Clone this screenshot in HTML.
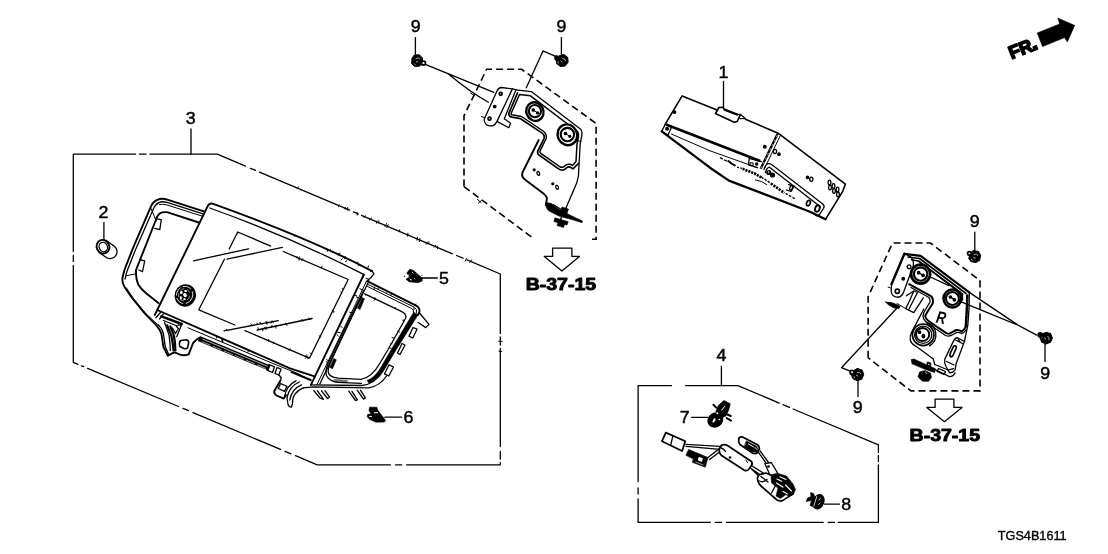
<!DOCTYPE html>
<html lang="en">
<head>
<meta charset="utf-8">
<title>TGS4B1611</title>
<style>
html,body{margin:0;padding:0;background:#fff;}
body{width:1108px;height:554px;overflow:hidden;}
svg{display:block;will-change:transform;}
svg text{font-family:"Liberation Sans",sans-serif;fill:#000;}
.l{fill:none;stroke:#000;stroke-width:1.3;stroke-linecap:round;stroke-linejoin:round;}
.t{fill:none;stroke:#000;stroke-width:1;stroke-linecap:round;stroke-linejoin:round;}
.h{fill:none;stroke:#000;stroke-width:1.9;stroke-linecap:round;stroke-linejoin:round;}
.b{fill:none;stroke:#000;stroke-width:2.4;stroke-linecap:round;stroke-linejoin:round;}
.w{fill:#fff;stroke:#000;stroke-width:1.3;stroke-linejoin:round;}
.k{fill:#000;stroke:#000;stroke-width:0.6;stroke-linejoin:round;}
.d{fill:none;stroke:#000;stroke-width:1.6;stroke-dasharray:7 4;}
.n{font-size:17.2px;text-anchor:middle;}
.ref{font-size:16px;font-weight:bold;text-anchor:middle;stroke:#000;stroke-width:0.9;stroke-linejoin:round;}
</style>
</head>
<body>
<svg width="1108" height="554" viewBox="0 0 1108 554">
<rect x="0" y="0" width="1108" height="554" fill="#fff"/>
<!-- assembly outline 3 -->
<g class="l" id="box3">
<path d="M73.3 251.5V154.2H135.5M139.5 154.2h6.5M150 154.2H217.3L245.5 166.1M250.5 168.3l5 2.1M259.5 172.1L349.600 210.200M353.500 211.900l5 2.100M361.500 215.300L452.5 253.8M456.5 255.5l6.5 2.7M467 259.9L500.3 274V333.5M500.3 337v8M500.3 348.5V446.5M500.3 451.5v7.5M500.3 462.5v2.3H406.5M401.7 464.8h-6.2M390.5 464.8H317.2L295.5 455.7M291 453.8l-6-2.5M280.5 449.4L193 412.6M188.5 410.7l-5.5-2.3M178.5 406.5L87.6 368.3M83.5 366.6l-2-.8M78 364.3l-4.7-2V265.5M73.3 261.5v-6"/>
<path d="M191 129V154.2"/>
</g>
<!-- assembly outline 4 -->
<g class="l" id="box4">
<path d="M638.1 481.5V385.7H671.4M685.7 385.7H737.9L779.3 403.1M783 404.7l6.4 2.7M793.1 409L878.4 444.9V452.5M878.4 455.5v6M878.4 465V522.4H838.3M834.5 522.4h-6.3M823.2 522.4H726.6M721.6 522.4h-6.3M710.3 522.4H638.1V499M638.1 494v-6.2"/>
<path d="M721.4 366.4V385.7"/>
</g>
<!-- callout numbers -->
<g class="n" stroke="#000" stroke-width="0.450">
<text x="190.6" y="124" textLength="9.900" lengthAdjust="spacingAndGlyphs">3</text>
<text x="103.4" y="217.7" textLength="9.900" lengthAdjust="spacingAndGlyphs">2</text>
<text x="415.6" y="32.2" textLength="9.900" lengthAdjust="spacingAndGlyphs">9</text>
<text x="561.4" y="32.2" textLength="9.900" lengthAdjust="spacingAndGlyphs">9</text>
<text x="723.5" y="77.7" textLength="9.900" lengthAdjust="spacingAndGlyphs">1</text>
<text x="444" y="284.200" textLength="9.900" lengthAdjust="spacingAndGlyphs">5</text>
<text x="408.400" y="422.900" textLength="9.900" lengthAdjust="spacingAndGlyphs">6</text>
<text x="721.4" y="360.7" textLength="9.900" lengthAdjust="spacingAndGlyphs">4</text>
<text x="684.800" y="423" textLength="9.900" lengthAdjust="spacingAndGlyphs">7</text>
<text x="846.2" y="510" textLength="9.900" lengthAdjust="spacingAndGlyphs">8</text>
<text x="974.8" y="227.1" textLength="9.900" lengthAdjust="spacingAndGlyphs">9</text>
<text x="1045.100" y="378.800" textLength="9.900" lengthAdjust="spacingAndGlyphs">9</text>
<text x="857.8" y="413" textLength="9.900" lengthAdjust="spacingAndGlyphs">9</text>
</g>
<g class="l" id="leaders">
<path d="M103.9 222.6V240.2"/>
<path d="M415.4 37.6V54"/>
<path d="M561.4 37.6V54"/>
<path d="M723.5 81.4V107.7"/>
<path d="M422 278H437.300"/>
<path d="M384.9 417.200H401.700"/>
<path d="M691.500 417.300H707.800"/>
<path d="M824.5 504.1H839.5"/>
<path d="M974.800 232.100V250.500"/>
<path d="M1045 343.900V361.500"/>
<path d="M858 380.500V396.600"/>
</g>
<!-- reference arrows -->
<g class="l">
<path class="w" d="M552.6 248.2H571.9V256.4H579.4L561.9 271L544.3 256.4H552.6Z"/>
<path class="w" d="M935.1 399.1H953.9V407.4H962L944.4 421.7L926.8 407.4H935.1Z"/>
</g>
<text class="ref" x="560.9" y="289.8" textLength="70.500" lengthAdjust="spacingAndGlyphs">B-37-15</text>
<text class="ref" x="944.8" y="440.8" textLength="70.500" lengthAdjust="spacingAndGlyphs">B-37-15</text>
<text x="997.800" y="540.400" font-size="12.600" stroke="#000" stroke-width="0.350" textLength="68.800" lengthAdjust="spacingAndGlyphs">TGS4B1611</text>
<!-- front direction marker -->
<path d="M1037.200 33L1059.700 23.900L1057.800 18.100L1074.700 25.400L1067.300 41.900L1064.600 37.600L1042.600 46.600Z" fill="#000" stroke="#000" stroke-width="0.600" stroke-linejoin="round"/>
<text transform="translate(1011.600 59.200) rotate(-21.500)" x="0" y="0" font-size="18" font-weight="bold" stroke="#000" stroke-width="1.700" stroke-linejoin="round" textLength="29.500" lengthAdjust="spacingAndGlyphs">FR<tspan font-size="23" dx="-1">.</tspan></text>

<g id="display">
<!-- left bezel -->
<g class="l">
<path class="h" d="M204.6 211.7L168 199.8Q163.5 198.4 159.8 199Q154 200.2 151.2 205.9L133.1 247.8L124.4 270L122.3 278.8Q122.2 283 124.4 286.7L131.7 297.5L144.7 313.4L156.4 325.3Q160.5 330 161.5 334.1L163.4 346.8L167.8 355.6"/>
<path d="M203.9 214.2L167 202.4Q163 201.3 160.5 202Q156.3 203 153.8 208L135.6 249.4L127 271.2L125 279"/>
<path class="t" d="M203.1 216.4L166.5 204.8Q162 203.8 159.5 204.6"/>
<path class="h" d="M198.8 222.5L167.8 212.4Q163 211.6 159.8 213.4Q156.8 215.6 155.5 221L136 270V274.4Q136.3 280 138.2 284.5Q141 289 146.1 293.2L158.4 302.9"/>
<path class="t" d="M151.2 208.8L156.2 221"/>
<path d="M156.9 218.9L161.3 219.6L159.8 229.7L154.8 228.3"/>
<path d="M141 260L144.7 260.8L142.5 271.6L138.9 270"/>
<path class="t" d="M125.9 275.9L136 273.7"/>
<path class="t" d="M126.2 287.7L133.5 298.5L146.2 314L158.5 325.3"/>
</g>
<!-- front panel -->
<g class="l">
<path class="h" d="M154.8 315L207.2 207.200Q208.600 203.200 212.500 203.600C264.900 222.400 322.300 244.800 372.100 271.100"/>
<path d="M209.700 208C266.500 228.300 312 248.100 364.100 274.600"/>
<path d="M229.200 249L237.700 232L270.700 246.100M283.300 251.500L348.200 279.500L309.400 358.200L245 330.700M234.900 325L198.800 309.800L224.400 259.200"/>
<path d="M193.500 260.800L248.600 248.800M227 259.200L282.400 247.300"/>
<path d="M224.100 330.800L278.200 320.600M257.200 330L312.100 318.500"/>
<path class="h" d="M158.4 310.5L290 368.3L313.8 376.2"/>
<path class="t" d="M188 327.800L270 362.300L300 374.500"/>
<path class="h" d="M363.900 274.500L310.900 384.900"/>
<path d="M372.100 271.100L374 273.800L370.900 277.600L366.400 281.400M369 280.800L319.800 384"/>
<path class="t" d="M366.400 281.400L317 384.500"/>
</g>
<!-- knob -->
<ellipse cx="185.300" cy="295.400" rx="10.700" ry="11.300" transform="rotate(20 185.300 295.400)" fill="#000"/>
<ellipse cx="184.600" cy="295" rx="8.100" ry="8.700" transform="rotate(20 184.600 295)" fill="none" stroke="#fff" stroke-width="0.800" stroke-dasharray="9 2.500"/>
<ellipse cx="184.200" cy="294.800" rx="5.600" ry="6.200" transform="rotate(20 184.200 294.800)" fill="none" stroke="#fff" stroke-width="0.500" stroke-dasharray="4 3"/>
<g fill="#fff">
<ellipse cx="181.300" cy="292.500" rx="1.400" ry="1.700"/>
<ellipse cx="185.600" cy="291" rx="1.500" ry="1.100"/>
<ellipse cx="185" cy="295.200" rx="1.700" ry="2.200" transform="rotate(-30 185 295.200)"/>
<ellipse cx="180.800" cy="297.800" rx="1.100" ry="1.900"/>
<ellipse cx="184.500" cy="299.200" rx="1.300" ry="0.900"/>
</g>
<!-- lower rail -->
<g class="l">
<path stroke-width="5.400" stroke-linecap="butt" d="M198.8 338.6L269.5 368.100"/>
<path stroke="#fff" stroke-width="0.700" d="M203 339.300L268 366.500"/>
<path stroke="#fff" stroke-width="0.600" stroke-dasharray="9 3" d="M202 341.700L267 368.900"/>
<path d="M269 364.5L274.5 366.8L272.5 372.5L267 370.2ZM277 367.5L281 369.2L278.8 375L275 373.5Z"/>
<path d="M278.800 375L281.200 377.500L280.500 380.500"/>
<path style="stroke-width:2.200" d="M291.600 372.100L310.600 380"/>
</g>
<!-- left foot -->
<g class="l">
<path d="M155.800 317.700L160.900 312M159.600 319L163.400 313.900"/>
<path style="stroke-width:2.600" d="M161.500 316.400L181.700 324"/>
<path d="M163.500 320.500L176 325.500L178.500 329"/>
<path class="h" d="M167.800 355.600L174.100 352.400L177.900 353.700Q182.500 356.500 188.700 354.300L193.100 343L196.200 339.800L199.400 337.900"/>
<path d="M158.300 324.600Q162.500 329 163.400 333.500L165.300 346.800L168.400 353.700"/>
<path d="M164.600 322.700Q168.500 333 169.100 335.400Q170.300 344 170.300 350.500"/>
<path style="stroke-width:2.200" d="M167.200 325.300Q171.200 335 171.600 336.700Q173.200 345 173.500 350.500"/>
<path style="stroke-width:2.200" d="M170.300 326.500Q174 335 174.100 336.700Q175.300 343 175.400 350.500"/>
<path d="M172.500 328L175.500 333.500L177.500 330"/>
<path d="M177.900 325.300L181.700 324.600L176.700 336.700"/>
<path style="stroke-width:1.600" d="M180.600 340.500L186.800 339.800Q188.500 340.500 188.700 342.500L187.600 347.800Q186.500 349 184.500 348.700L179.800 346.500Q179 344.500 179.500 342.500Z"/>
</g>
<!-- right foot -->
<g class="l">
<path class="h" d="M280.500 380.500L274.300 391Q273.800 394 276.500 395.500L283.800 398.600L286 395"/>
<path d="M280.500 383.500L287 386.300L284.500 391.300L278.300 388.500Z"/>
<path d="M299.3 382Q289.5 386 287 397.5L288 404.5Q289 407.5 291.5 407L292.5 403.5Q292 392.5 303.5 387.8"/>
<path d="M296 380.8Q286.5 385.5 284.5 396.5M301.5 384.8Q291.5 389 289.8 400"/>
</g>
<!-- right bezel (U frame) -->
<g class="l">
<path class="h" d="M367.700 281.400L415.700 305.400Q419.800 307.500 419.500 311.500L418 315"/>
<path class="t" d="M367.100 284L414.500 307.300Q417.200 309.200 416.600 312.500"/>
<path class="t" d="M366.400 285.900L411.900 308.600Q414 310 413.500 312.500"/>
<path d="M364.7 293.8L400.8 311.2Q406.5 313.5 405.8 318L387.8 350L380 363Q372 377.5 361 379.3L338 378.2Q329 377 328.2 371.9Q328 368 330.5 362L345.5 330L361.5 296.5"/>
<path d="M363.8 290.2L345.2 327.5L328 363.5Q325 371 326.5 375.5Q329.5 381.5 338 382.3L361.5 383.3"/>
<path d="M303.5 387.8L313 386.8L368.6 387.8Q380 386 386.5 376"/>
<path d="M311 384.8L362 385.5Q375 384 382.5 371.5L394 351"/>
<path class="k" d="M418.1 314.8L396 350L384 370Q378 380 369 383L367 380.5Q375 377.5 380.5 368L392.5 347.5L413.5 312.5Z"/>
<path d="M419.500 313L429 324.400L425.800 327.600L418.200 322.500"/>
<path d="M413 327.5L417 329.2L412.8 338L409 336.2Z"/>
<path d="M402 343.5L405 345L400 354.5L397.5 353Z"/>
<path d="M389 364.8L393.5 367L388.8 376L384.5 373.8Z"/>
<path class="k" d="M362 297.5L364.5 298.8L360 309.5L357.5 308.2Z"/>
<path class="k" d="M334.400 379.300L347.400 380.200L347.200 382.600L334.200 381.700Z" opacity=".55"/>
<path class="k" d="M333.800 358.500L336.300 359.800L332.500 368.700L329.800 367.400Z"/>
<path d="M313.8 390.6L320 398L323.5 399.3L317.5 390.8M321.5 390.8L327.5 398.5L329.6 397.2L325 390.8"/>
<path d="M348.8 391.2L355.5 400.5L357.4 399.8L352 391.3M357.4 390.4L363.5 399.1L365.4 397.8L360.5 390.3"/>
</g>
<!-- clips 5 / 6 -->
<path class="k" d="M409.800 269.200L413.500 270.600L422.200 278L422.200 281L418 282.700L409 281.700L406 279.200L409.500 277L406.800 273Z"/>
<path fill="none" stroke="#fff" stroke-width="0.900" stroke-linecap="round" d="M405.500 275.800L408.800 275M410 279.300L411.500 280M412.500 272.500L413.200 273M414.500 278.500L415 278.800"/>
<path fill="#000" d="M404 275.600l1 .400l-.300 1l-1 -.300zM421.500 274.800l.900 .300l-.300 .900l-.900 -.300z"/>
<path class="k" d="M369.500 407.200L376.800 407.200L378 410.500L385.700 420.500L384.500 422L376 422.200L369.800 419.600L367.200 416.800L367.500 414.600L371 413.800L369 410.500Z"/>
<path fill="none" stroke="#fff" stroke-width="1" stroke-linecap="round" d="M374.300 412.700H377.600M369.500 416.400H371.700"/>
</g>

<!-- scan artefacts along edges -->
<path class="t" id="ticks" stroke-linecap="butt" d="M298.5 186.8L297.2 188.9M339.1 204.7L338.5 206.7M345.1 207.3L345.3 209.4M347.7 207.5L347.7 210.2M357.2 212.5L357.2 215.2M365.5 215.9L363.7 217.5M371.6 218.0L369.4 219.9M376.9 221.1L376.5 223.2M378.9 220.9L378.5 223.1M386.5 223.6L385.0 226.6M388.2 224.7L386.9 227.5M399.7 229.8L399.4 231.8M408.0 233.2L407.4 236.2M417.5 237.3L416.9 240.2M419.9 238.5L419.4 241.7M427.7 241.8L425.7 243.9M429.3 242.2L426.9 244.2M435.6 245.4L434.3 247.1M437.3 246.2L437.5 248.5M466.6 258.4L465.2 261.1M471.6 259.8L469.7 262.6M295.7 235.1L294.9 236.4M327.5 250.1L327.4 251.3M330.7 249.3L329.9 250.4M338.2 253.6L337.7 254.9M339.9 253.0L339.1 255.1M342.4 258.7L341.1 260.0M345.2 256.5L344.5 258.6M346.7 260.7L345.4 261.7M357.8 262.1L357.5 263.5M359.3 264.4L358.6 265.7M368.6 265.9L368.0 267.3M371.8 270.4L370.5 271.5M226.4 329.2L227.5 330.9M250.8 323.9L252.2 325.8M257.0 323.0L257.6 324.7M259.8 322.4L260.6 323.7M260.8 322.9L261.8 324.2M265.7 321.9L267.1 324.2M266.9 321.5L267.5 323.2M271.5 321.8L270.9 323.3M272.2 320.7L273.3 322.5M258.1 327.7L258.5 329.9M262.8 328.2L262.8 330.9M264.6 327.3L265.6 328.9M266.1 327.0L266.0 329.5M271.9 325.4L271.7 327.4M276.1 325.4L275.8 328.1M285.8 323.2L287.0 325.5M301.8 319.4L303.2 321.1M308.9 318.0L309.6 319.4M268.6 339.5L268.5 340.9M274.1 342.7L273.1 343.7M290.2 348.8L289.0 350.6M306.4 354.9L305.2 356.7M306.9 356.5L305.5 358.3M307.6 355.8L306.4 357.2M308.8 357.7L307.6 358.8M343.2 289.4L342.2 288.5M341.6 292.9L340.8 291.8M334.0 311.3L332.2 310.3M333.6 312.4L332.8 311.3M320.7 337.3L319.4 335.7M311.5 354.1L310.3 352.9M297.0 256.5L297.0 258.0M299.4 256.9L298.6 259.0M299.7 258.4L299.1 260.2M302.8 258.7L301.8 260.7M322.0 266.2L321.4 267.9M368.0 278.9L366.1 278.5M361.8 289.7L359.9 288.7M356.8 295.9L354.8 295.1M358.1 297.8L356.3 297.0M351.5 313.1L349.7 312.2M342.2 327.4L340.8 326.4M340.1 332.7L337.8 332.3M338.4 336.0L337.1 334.7M341.7 337.9L340.4 337.4M333.1 354.9L331.8 354.9M328.1 360.8L326.7 359.4M327.3 362.5L326.2 361.7M374.5 287.0L374.2 289.2M378.5 287.6L378.0 289.1M387.8 291.3L386.9 292.4M391.2 294.4L390.7 295.5M410.9 303.0L410.2 304.0M415.9 304.1L414.5 305.1M414.0 307.6L413.9 309.6M366.7 294.3L365.6 295.2M374.9 297.6L374.7 299.6M375.5 298.5L374.2 300.2M395.5 307.6L394.7 308.6M403.9 320.3L402.6 320.2M399.5 332.0L397.5 331.3M393.8 338.1L392.1 337.6M392.1 343.8L390.8 343.5M391.1 348.2L389.8 348.1M216.9 336.4L216.5 338.0M221.4 338.9L221.5 340.1M222.5 339.5L222.3 341.4M222.8 340.5L222.8 342.2M248.7 350.2L248.0 352.0M498.6 341.2L502.2 341.6M499 351.300L501.600 351.500M477.5 199.5L481 202.5M478.500 203L481.500 200.500M470.500 93L473.500 95"/>

<!-- part 2: cap -->
<g id="cap" class="l">
<path class="w" d="M106 240.400L114.300 246.200A6.900 6.900 0 0 1 106.400 257.500L99 252.400Z"/>
<ellipse cx="103" cy="246.700" rx="6.300" ry="6.900" transform="rotate(-25 103 246.700)" style="fill:#fff;stroke-width:1.900"/>
<ellipse cx="103.300" cy="247" rx="4.100" ry="4.800" transform="rotate(-25 103.300 247)"/>
</g>

<!-- left bracket with dashed reference boundary -->
<g id="bracketL">
<path class="d" d="M464 186.600V115.800L486.600 69.300H521.700L596.100 123.500V239.300H592" stroke-dasharray="7.200 4.200"/>
<path class="d" d="M464 186.6L531.6 237.1" stroke-dasharray="7.200 4.200"/>
<g class="l">
<!-- leaders from bolts -->
<path d="M425.3 64.4L493.8 92.3M448.7 74.3Q470 92 488.4 102.3"/>
<path d="M555.6 56.4L543 50.9L526.3 87.8"/>
<path class="t" d="M481.5 116.5L488 119"/>
<!-- flange -->
<path class="w" d="M501.6 87.5L512.4 88.9L516 89.8L504.3 118.7L510.6 123.2L508.8 127.7L497 121.4Q494.5 126 491.6 125.9Q486.5 126 485.3 123.2Q483.8 121 484.4 118.7L497.1 90.7Q498.5 87.6 501.6 87.5Z"/>
<path d="M512.4 88.9L497 121.4"/>
<circle cx="500.700" cy="93.800" r="1.500" style="stroke-width:1.700"/>
<circle cx="494.700" cy="106.600" r="1.300" fill="#000"/>
<circle cx="489.500" cy="118.700" r="1.500" style="stroke-width:1.700"/>
<!-- body outer -->
<path d="M516 89.8L531.3 91.6L581 129.5Q582.5 132 581.9 135L580.2 143.6L578.4 176.1L576.6 183.3L564.9 210.4"/>
<path class="h" d="M538.7 140L522.5 172.5Q521 177 525.2 179.7L544.1 194.1Q547.5 197 546.8 199.500L545.9 205"/>
<!-- channel double line -->
<path style="stroke-width:1.700" d="M517.5 93L508.8 113.3Q508.5 116.5 512 117.2L520.5 118.7L542.2 133.1Q545 135.500 544 138.6L537.7 151.2Q537.3 153.500 538.6 154.8L558.6 168.9Q561.5 170.800 564 169.8L567.6 167.1Q570 166.2 573 168.9L578.4 163.5"/>
<path style="stroke-width:1.500" d="M519.5 94.5L530.5 95.8L577.5 131.5Q579 133.5 578.5 136L577 144L576 161.500L572.500 165.5Q570 163.5 566.5 164.6L563.5 167Q561.5 167.800 559.5 166.5L540.800 153.300Q539.5 152 540 150.800L546.2 138.5Q547 134.5 543.800 131.5L521.5 116.5L512 114.800Q510.800 114.500 511.2 113.300Z"/>
<!-- bushings -->
<ellipse cx="534.900" cy="111.600" rx="8.500" ry="9.500" transform="rotate(-25 534.900 111.600)" style="fill:#fff;stroke-width:2.400"/>
<circle cx="534.9" cy="111.100" r="6.100" style="stroke-width:2.100"/>
<circle cx="533.3" cy="110" r="1.200" fill="#000"/><circle cx="537.5" cy="112.9" r="1" fill="#000"/>
<path class="t" d="M533.3 110L537.5 112.9"/>
<ellipse cx="567.400" cy="134.800" rx="9.700" ry="10.500" transform="rotate(-25 567.400 134.800)" style="fill:#fff;stroke-width:2.400"/>
<circle cx="567.4" cy="134.600" r="6.700" style="stroke-width:2.100"/>
<circle cx="565.5" cy="133.500" r="1.200" fill="#000"/><circle cx="569.800" cy="136.300" r="1" fill="#000"/>
<path class="t" d="M565.5 133.5L569.8 136.3"/>
<path class="t" d="M575.5 140L581 141.500"/>
<!-- holes -->
<circle cx="534.2" cy="169.800" r="1" fill="#000"/>
<ellipse cx="538.3" cy="173.400" rx="1.300" ry="2" transform="rotate(-20 538.3 173.4)"/>
<circle cx="552.800" cy="183.800" r="1" fill="#000"/>
<ellipse cx="557.100" cy="187.300" rx="1.300" ry="2" transform="rotate(-20 557.1 187.3)"/>
</g>
<!-- spring clip -->
<path class="k" d="M546 202.500Q545 208 549 211L560 216.5L572 219.500L582 222.700L582.5 221L573 216.500L567 213.500L568.5 209L562 207L560.500 210.500L551.500 203.500Z"/>
<path class="l" stroke="#fff" stroke-width="0.9" d="M551 206.500L559.500 211.500M553.500 204.800L560.500 209"/>
<path class="k" d="M555 217.800L568.200 221.800L567 225L564.500 224.500L563.500 227.500L557 225.600L558 222.800L554 221.500Z"/>
<path class="l" stroke="#fff" stroke-width="0.9" d="M562 215L560 222"/>
</g>

<!-- right bracket with dashed reference boundary -->
<g id="bracketR">
<path class="d" d="M868.100 357.700V296.800L892.500 243H930.400L980 280.500V390.900H911L868.100 357.700" stroke-dasharray="7.200 4.200"/>
<g class="l">
<!-- leaders -->
<path d="M1036.700 335.100L1018 325.100L969.300 292.400M1018 325.100L961.200 301.800"/>
<path d="M896.500 308.500L841.500 367.700L849.500 370.900"/>
<path class="t" d="M888.100 287L894.900 289.700"/>
<!-- flange -->
<path class="w" d="M904.400 253.800L908.500 255.500Q914.500 258.500 913.200 266L903 293.700Q900.500 297.800 896.500 297.200Q892 296.500 891.200 291.500L891.500 284.200Z"/>
<path style="stroke-width:2.400" d="M904.400 253.800L891.500 284.200"/>
<circle cx="909.100" cy="266.700" r="1.900"/>
<circle cx="903.300" cy="278.800" r="1.300" fill="#000"/>
<circle cx="897.300" cy="291.300" r="2.100" style="stroke-width:1.700"/>
<!-- top bar -->
<path style="stroke-width:2.200" d="M904.400 253.800L920.600 255.800L969.300 292.400"/>
<path style="stroke-width:1.600" d="M908 257L919.500 258.500L966 293.500"/>
<path style="stroke-width:1.600" d="M911.500 259.800L918.500 261L962.500 294.500"/>
<path class="t" d="M924.700 265.500L961.200 292.400"/>
<!-- bushings -->
<circle cx="920.600" cy="274.100" r="9.500" style="fill:#fff;stroke-width:2.700"/>
<circle cx="920.600" cy="274.100" r="6.700" style="stroke-width:2.100"/>
<circle cx="918.600" cy="272.700" r="1.200" fill="#000"/><circle cx="923.100" cy="275.400" r="1.200" fill="#000"/>
<path d="M918.600 272.700L923.100 275.400"/>
<circle cx="952.400" cy="298.500" r="8.900" style="fill:#fff;stroke-width:2.500"/>
<circle cx="952.400" cy="298.500" r="6.500" style="stroke-width:2.100"/>
<circle cx="950.400" cy="297" r="1.200" fill="#000"/><circle cx="954.400" cy="299.800" r="1.200" fill="#000"/>
<path d="M950.400 297L954.400 299.800"/>
<path d="M931.400 277.500L949 285.600"/>
<!-- right textured edge -->
<path d="M959.500 292.500L958.500 297Q958.500 301 961.500 302.500M962.500 293.500V300"/>
<path style="stroke-width:2.600" stroke-dasharray="2.800 1.200" d="M967.300 295.500L967.100 305L965.800 326.700"/>
<path d="M969.300 293L969.200 306L967.800 325.300L964.400 341.500"/>
<!-- middle step piece -->
<path d="M906.400 295.700L913.800 291L909 302L905.700 308.600L913.800 312.700L923.300 297.800"/>
<path d="M913.800 291L917.500 292.500L909 309"/>
<path class="t" d="M905.700 308.600L897 303.500"/>
<path class="k" d="M885.400 302Q893 301.500 900.300 306.500L899 308.600Q892 309 885.400 302Z"/>
<!-- channel -->
<path style="stroke-width:2" d="M909.100 284.200L931.400 296.400Q933.500 299 932.800 303.200L927.900 311L925.200 315.800Q925.500 318.500 928 320.500L934.700 325.300L946.800 333.400Q949.500 334.500 952.200 332.100L956.300 330Q959 329.500 961.700 331.400Q964.500 330 965.800 326.700"/>
<path d="M911 287.500L929 297.500Q930.500 299.500 930 302L923.800 312.500Q922.500 316 923.500 318.500Q925 321.500 928 323.500L945.500 335.500Q949.500 337 953 334.500L956.500 332.500Q959 332 961.500 333.500Q964 333 966 330"/>
<!-- lower plate left edge -->
<path d="M923.800 309L911.700 332.100Q909.500 336.500 910.300 340.200Q911.500 344 915.500 346L922.500 351L933.300 359.100L934.700 364.500"/>
<!-- lower bushing -->
<circle cx="923.200" cy="334.800" r="10.800" style="stroke-width:1.700"/>
<path d="M926.500 322.500A12.800 12.800 0 0 1 929.500 345.900"/>
<circle cx="923.200" cy="334.800" r="8.600"/>
<circle cx="922.600" cy="334.500" r="6.600" style="stroke-width:2"/>
<circle cx="919.600" cy="332.200" r="1.200" fill="#000"/><ellipse cx="923.400" cy="336" rx="1.300" ry="1.900" fill="#000"/>
<!-- right tab with slot -->
<path class="w" d="M957 337.500L964.400 341.500L956.300 363.200L955 370Q953 373 949.500 372.700L946 366.500Q944 362.500 944.800 359.100L953.600 340.900Q955 338 957 337.500Z"/>
<path d="M955.500 340L962.500 343.500M958 338.800L960.500 342.500"/>
<path style="stroke-width:1.700" d="M954.500 345.800Q956.500 345.500 956.300 348L953 355.500Q951.500 357.500 950.200 356.400Q949.500 355 950.400 353L953.200 347Q953.800 346 954.500 345.800Z"/>
<path d="M946.500 361.500L954 365"/>
<!-- bottom lip -->
<path d="M934.700 364.500L948.200 370L953.600 368.600M936 370L949.500 376.700Q953.500 376.500 955 372.700"/>
<path d="M938.500 368.500L945.500 371.500L944 374.500L937 371.500Z"/>
</g>
<text x="936.500" y="323.500" font-size="17" font-style="italic" font-weight="bold" transform="rotate(10 942 317)" textLength="9.500" lengthAdjust="spacingAndGlyphs">R</text>
<!-- spring clip -->
<path class="k" d="M911.200 359.600L914 359L926.500 364.800L927.500 361.800L931 363L930.800 366.500L935.800 369L934.500 372.500L925.500 369.500L912 363.800Z"/>
<path class="k" d="M919.500 372L925 370.500L930.500 373L931.500 377.500L928.500 381.300L922.500 381.300L918 377Z"/>
<path fill="none" stroke="#fff" stroke-width="0.900" d="M925.200 371.500L926.800 373.800M928 364L929.500 365"/>
</g>

<!-- part 1: control unit -->
<g id="ecu">
<g class="l">
<path style="stroke-width:1.600" d="M665.300 124.200L682.100 95.900L717.600 110.200M745.400 119.300L778.100 133.200L845.400 184.100L842.700 191.300L825.500 219.300"/>
<path class="w" style="stroke-width:1.600" d="M715.400 113.600L718.900 107.500L722.500 107.200L725.200 109.800L736.600 114.300L740.400 114.600L737.200 121.500L734.100 122.200Z"/>
<path style="stroke-width:2.300" d="M724.500 109.600L737 114.500"/>
<path d="M740.400 114.600L745.400 118.400L740 118.600"/>
<path style="stroke-width:2.600" stroke-linecap="butt" d="M666 124.500L760.100 161"/>
<path style="stroke-width:2.300" d="M661.700 131.400L710 167.700L728.900 180.600L810 211.700L825.500 219.300"/>
<path d="M665.300 124.200L661.700 131.400L668 135L671.600 127"/>
<circle cx="667.100" cy="128.700" r="1.300" fill="#000"/>
<path class="t" d="M671.600 134.100L710 150.800L757.400 167.700"/>
<path style="stroke-width:2.300" stroke-linecap="butt" d="M777.500 134L760.600 168.800"/>
<path stroke="#fff" stroke-width="0.700" stroke-dasharray="1.200 3.800" d="M777.200 135.500L761 168"/>
<path class="t" d="M780.200 135.800L764 169.500"/>
<path d="M761.400 161.700L749.200 158.300L748.600 165L757.400 167.700"/>
<path class="t" d="M750.500 162.800h2.600v2.600h-2.600z"/>
<circle cx="756.700" cy="164.100" r="1.100" fill="#000"/>
<!-- connector panel -->
<path d="M764.100 169.100Q765.500 164.500 768.200 163.700Q770 163.300 772 164.800L822.800 204Q825 206 823.500 208.500L819.200 214.800Q817.500 216.500 815.500 215.500"/>
<path d="M765.500 172.500Q766.500 168 769.500 167.200L820 206.500"/>
<path d="M788.500 184.700L793.900 186L791.200 191.400L786.500 190"/>
<ellipse cx="791.200" cy="187.800" rx="1.300" ry="2.400" transform="rotate(20 791.200 187.800)"/>
<ellipse cx="808.400" cy="203.100" rx="1.800" ry="2.800" transform="rotate(20 808.400 203.100)" style="stroke-width:1.700"/>
<ellipse cx="817.400" cy="208.500" rx="2.200" ry="3.300" transform="rotate(20 817.400 208.500)" style="stroke-width:2"/>
<!-- dots -->
<circle cx="674.400" cy="112.100" r="1.300" fill="#000"/>
<circle cx="764.800" cy="146.800" r="1.300" fill="#000"/>
<ellipse cx="775" cy="151.500" rx="1.600" ry="2.100"/>
<circle cx="779" cy="154.200" r="1.200" fill="#000"/>
<circle cx="807.500" cy="177.300" r="1.200" fill="#000"/>
<ellipse cx="811.300" cy="179.300" rx="1.600" ry="2.100"/>
<g>
<ellipse cx="829.500" cy="182.500" rx="1.400" ry="2.300"/><ellipse cx="833.500" cy="186" rx="1.400" ry="2.300"/><ellipse cx="837.500" cy="189.500" rx="1.400" ry="2.300"/>
<ellipse cx="830" cy="187.500" rx="1.400" ry="2.300"/><ellipse cx="834" cy="191" rx="1.400" ry="2.300"/><ellipse cx="838" cy="194.500" rx="1.400" ry="2.300"/>
</g>
</g>
<!-- connector blobs -->
<circle cx="768.800" cy="172.500" r="2.600" fill="#000"/>
<circle cx="772.500" cy="175" r="2.600" fill="#000"/>
<circle cx="768.500" cy="172" r=".800" fill="#fff"/>
<!-- label marks on lower face -->
<g fill="none" stroke="#000" stroke-linecap="butt">
<path stroke-width="1.400" d="M720.100 157.600L727.600 161.700" stroke-dasharray="3 1.500"/>
<path stroke-width="2" d="M727.600 160.500L731.500 163.500L735.500 165.800"/>
<path stroke-width="1.400" d="M737.100 167.100L742.500 168.400" stroke-dasharray="2 1.200"/>
<path stroke-width="2.600" d="M742.500 168.800L754.700 173.500L761.400 177.500" stroke-dasharray="2.200 0.900"/>
<path stroke-width="1.400" d="M761.400 177.200L770.900 183.300" stroke-dasharray="2.500 1.200"/>
<path stroke-width="2.600" d="M770.900 183.500L784.400 193" stroke-dasharray="2.200 1"/>
<path stroke-width="1.400" d="M785.500 193.500L795.300 198.900" stroke-dasharray="2.500 1.500"/>
</g>
<path class="t" d="M755.300 179.900Q762 180.500 766.800 184.700"/>
</g>

<!-- part 9: flange bolts -->
<g id="bolts">
<g transform="translate(417.1 60.6) rotate(0)">
<path fill="#000" stroke="#000" stroke-width="1" stroke-linejoin="round" d="M-5.200 -2.200L-2.800 -5.600L2.200 -5.800L5.400 -2.600L5.600 2.400L2.400 5.600L-2.400 5.800L-5.400 3.200Z"/>
<path fill="none" stroke="#fff" stroke-width="0.600" stroke-linecap="round" d="M-1.200 -2Q0.800 -3.800 2.600 -2M-0.800 1.200H0.800M-2.500 3.400L-1.600 4.400"/>
</g>
<circle cx="423.5" cy="63.1" r="2.0" style="fill:#fff;stroke:#000;stroke-width:1.7"/>
<g transform="translate(562.3 60.6) rotate(40)">
<path fill="#000" stroke="#000" stroke-width="1" stroke-linejoin="round" d="M-5.200 -2.200L-2.800 -5.600L2.200 -5.800L5.400 -2.600L5.600 2.400L2.400 5.600L-2.400 5.800L-5.400 3.200Z"/>
<path fill="none" stroke="#fff" stroke-width="0.600" stroke-linecap="round" d="M-1.200 -2Q0.800 -3.800 2.600 -2M-0.800 1.200H0.800M-2.500 3.400L-1.600 4.400"/>
</g>
<circle cx="556.8" cy="57.9" r="1.8" style="fill:#000;stroke:#000;stroke-width:1.7"/>
<g transform="translate(974.8 256.6) rotate(15)">
<path fill="#000" stroke="#000" stroke-width="1" stroke-linejoin="round" d="M-5.200 -2.200L-2.800 -5.600L2.200 -5.800L5.400 -2.600L5.600 2.400L2.400 5.600L-2.400 5.800L-5.400 3.200Z"/>
<path fill="none" stroke="#fff" stroke-width="0.600" stroke-linecap="round" d="M-1.200 -2Q0.800 -3.800 2.600 -2M-0.800 1.200H0.800M-2.500 3.400L-1.600 4.400"/>
</g>
<circle cx="969.4" cy="253.4" r="1.8" style="fill:#fff;stroke:#000;stroke-width:1.9"/>
<g transform="translate(1046.2 338.0) rotate(70)">
<path fill="#000" stroke="#000" stroke-width="1" stroke-linejoin="round" d="M-5.200 -2.200L-2.800 -5.600L2.200 -5.800L5.400 -2.600L5.600 2.400L2.400 5.600L-2.400 5.800L-5.400 3.200Z"/>
<path fill="none" stroke="#fff" stroke-width="0.600" stroke-linecap="round" d="M-1.200 -2Q0.800 -3.800 2.600 -2M-0.800 1.200H0.800M-2.500 3.400L-1.600 4.400"/>
</g>
<circle cx="1040.2" cy="334.8" r="2.0" style="fill:#000;stroke:#000;stroke-width:1.7"/>
<g transform="translate(857.7 374.6) rotate(25)">
<path fill="#000" stroke="#000" stroke-width="1" stroke-linejoin="round" d="M-5.200 -2.200L-2.800 -5.600L2.200 -5.800L5.400 -2.600L5.600 2.400L2.400 5.600L-2.400 5.800L-5.400 3.200Z"/>
<path fill="none" stroke="#fff" stroke-width="0.600" stroke-linecap="round" d="M-1.200 -2Q0.800 -3.800 2.600 -2M-0.800 1.200H0.800M-2.500 3.400L-1.600 4.400"/>
</g>
<circle cx="852.0" cy="372.3" r="1.9" style="fill:#fff;stroke:#000;stroke-width:1.9"/>
</g>

<!-- part 4 contents: sub cord, clips 7 and 8 -->
<g id="harness">
<g class="l">
<!-- connector A -->
<path class="w" style="stroke-width:1.800" d="M665.800 432.600L685.300 441.200L682.100 451L662 441.200Z"/>
<path d="M672.900 435.800L670.700 445"/>
<!-- wires -->
<path d="M685.900 444.300L724.300 446.700M685.900 446.300L720 449.400"/>
<path d="M708 457.500L720 448.300M709.500 459.500L721.500 450.500"/>
<!-- tube -->
<path class="w" style="stroke-width:1.800" d="M721.500 445.200Q724.500 443.800 727.500 445.500L750.700 460.900Q752.800 462.500 751.800 465L748.600 469.500Q746.800 471.500 744 470.100L721.500 455.500Q718.500 452.500 719.500 448.500Z"/>
<path d="M720.500 447.500Q724 448.500 725.500 451.500"/>
<circle cx="730" cy="457.500" r=".7" fill="#000"/>
<path class="t" d="M746 460L747.500 462.500"/>
<!-- wires tube to big connector -->
<path d="M751.800 465.700L767 475.500M750.500 468L764 477.500M752 469.500L761.500 478.500"/>
<!-- connector C -->
<path class="w" style="stroke-width:1.800" d="M738.800 438.500Q740 436 743 437.200L757.500 444.800Q759.800 446.500 759.400 449L757.500 452.500Q755.500 454.500 752.500 453L740 444.500Q738 442 738.800 438.500Z"/>
<path class="k" d="M746.500 441L757 446.500L758 449.500L756.500 452L752.500 452L744.500 446.500Z"/>
<path stroke="#fff" stroke-width="1" d="M748.500 444L753.500 447M755 447.500L757 449.500"/>
<!-- wire C to sleeve -->
<path d="M758.300 452.200L766 463M760.200 451L768.500 462.500"/>
<path class="w" d="M764.800 463.600L771.300 462.500L777.800 473.300L770.200 475.500Z"/>
<circle cx="768.500" cy="466.500" r=".7" fill="#000"/>
<!-- big connector body -->
<path class="w" style="stroke-width:1.700" d="M757.600 479.500Q757 476 760 474.500L766 473L777 478L793.300 493.600L782.500 500.600Q779.500 501.500 777 500L762 487Q758 483.500 757.600 479.500Z"/>
<path d="M759.500 481Q763 483 767 479.500M771.500 493L775.500 485.500M761 476.500L768 482"/>
</g>
<!-- connector B (dark ribbed) -->
<path class="k" d="M688.600 449.400L708 457.500L705.300 467.200L692.300 462.300L693.300 459L685.900 455.300Z"/>
<path fill="#fff" d="M698.800 456.800L703 458.600L701.800 462L697.800 460.200Z"/>
<path stroke="#fff" stroke-width="0.600" fill="none" d="M695.500 462L703.500 465"/>
<!-- big connector clamp -->
<path class="k" d="M771 476.500L778 473.500L786.500 476L793 484L795.500 489.500L793.300 494.500L789 496.500L786 494.500L780.500 498.500L776 496L778 488L771.500 483Z"/>
<path fill="none" stroke="#fff" stroke-width="1.100" stroke-linecap="round" d="M777 479L781.500 481.300M776.500 483L783 487.200M785.500 485L791.500 491M783 491.500L787.500 494M780 476.800L786 479.500"/>
<!-- clip 7 -->
<g>
<ellipse cx="715.300" cy="420" rx="8.200" ry="7.400" transform="rotate(-35 715.300 420)" fill="#000"/>
<path class="k" d="M718 405.800L723.800 400.400L730.300 403.700L728.900 409.400L726 415.900L721.700 418.100L715.900 411.600Z"/>
<path fill="none" stroke="#000" stroke-width="2" stroke-linecap="round" d="M713.400 404.700L716.200 407.600M727.400 414.500L730.700 416M726.700 418.100L731 420.600"/>
<ellipse cx="714" cy="420.500" rx="1.100" ry="2.400" transform="rotate(32 714 420.500)" fill="#fff"/>
<circle cx="717.300" cy="413.200" r="1" fill="#fff"/>
<circle cx="719.300" cy="419.500" r=".8" fill="#fff"/>
<path fill="none" stroke="#fff" stroke-width="1" stroke-linecap="round" d="M721.700 410.200L724.700 406.400"/>
</g>
<!-- clip 8 -->
<g>
<path class="k" d="M810.500 492.500L813.500 493.500L815 497L813.500 507L810 505.500L811.500 500.500L806.300 501.500L807.500 498L811 496.500Z"/>
<ellipse cx="818.400" cy="501.700" rx="5.900" ry="8" transform="rotate(22 818.400 501.700)" fill="#000"/>
<path fill="none" stroke="#fff" stroke-width="0.800" stroke-linecap="round" d="M813.800 506L816.800 496.500M819 500L820.500 498M818.500 504.500L820 503"/>
</g>
</g>

</svg>
</body>
</html>
